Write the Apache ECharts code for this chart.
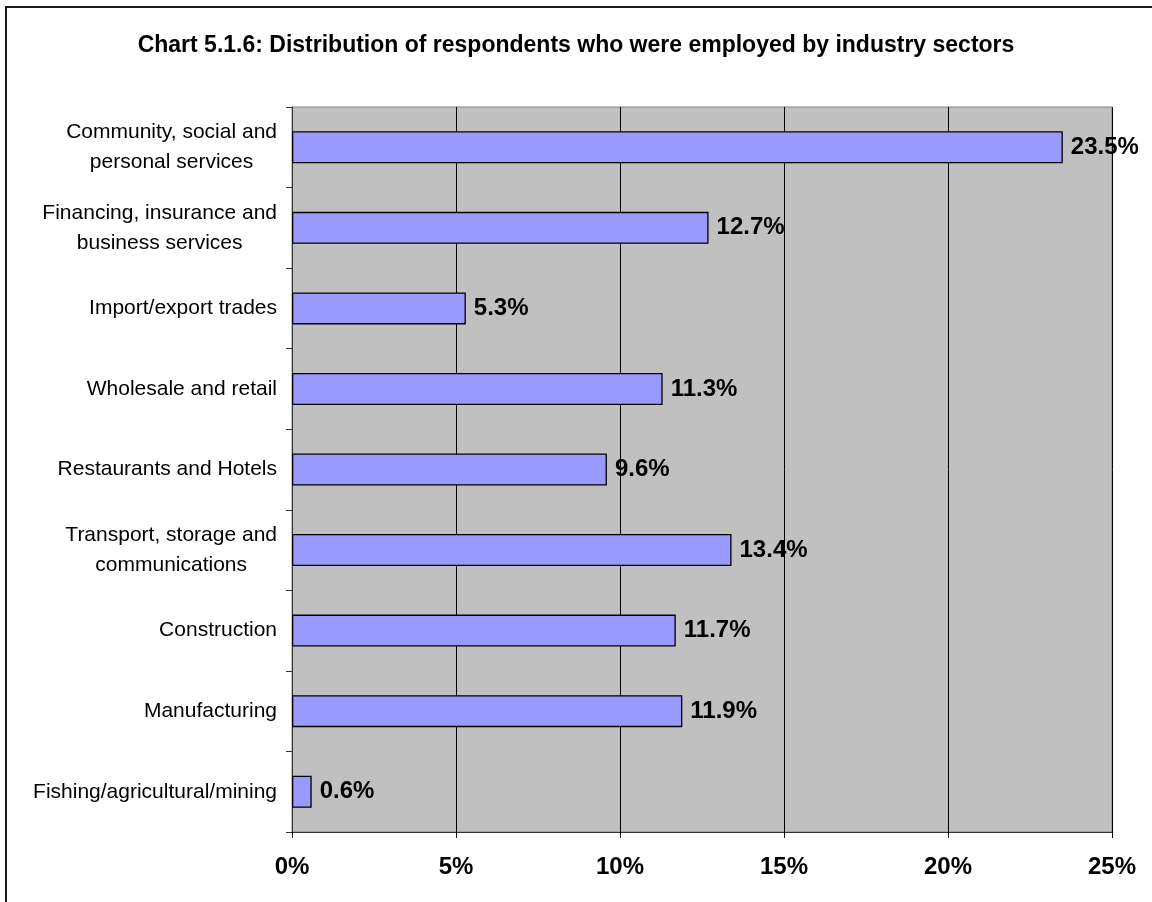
<!DOCTYPE html>
<html>
<head>
<meta charset="utf-8">
<script src="https://cdn.jsdelivr.net/npm/echarts@6/dist/echarts.min.js"></script>
<style>
html,body{margin:0;padding:0;background:#fff;}
#chart{width:1152px;height:902px;}
</style>
</head>
<body>
<div id="chart"></div>
<script>
var titleText = 'Chart 5.1.6: Distribution of respondents who were employed by industry sectors';
var categories = [
  'Community, social and\npersonal services',
  'Financing, insurance and\nbusiness services',
  'Import/export trades',
  'Wholesale and retail',
  'Restaurants and Hotels',
  'Transport, storage and\ncommunications',
  'Construction',
  'Manufacturing',
  'Fishing/agricultural/mining'
];
var values = [23.5, 12.7, 5.3, 11.3, 9.6, 13.4, 11.7, 11.9, 0.6];
var xMin = 0, xMax = 25, xStep = 5;

var FONT = '"Liberation Sans", Arial, Helvetica, sans-serif';
var chart = echarts.init(document.getElementById('chart'), null, {renderer: 'canvas'});
chart.setOption({
  backgroundColor: '#ffffff',
  animation: false,
  textStyle: {fontFamily: FONT},
  title: {
    text: titleText,
    left: 'center',
    top: 34,
    padding: 0,
    textStyle: {fontFamily: FONT, fontSize: 23, fontWeight: 'bold', color: '#000'}
  },
  graphic: [{
    type: 'rect',
    shape: {x: 6, y: 7, width: 1200, height: 1000},
    style: {fill: 'none', stroke: '#1a1a1a', lineWidth: 2},
    silent: true,
    z: 100
  }],
  grid: {
    left: 292, top: 107, width: 820, height: 725,
    show: true, backgroundColor: '#C0C0C0', borderColor: '#808080', borderWidth: 1,
    containLabel: false
  },
  xAxis: {
    type: 'value', min: xMin, max: xMax, interval: xStep,
    axisLine: {show: true, lineStyle: {color: '#333', width: 1}},
    axisTick: {show: true, length: 6, lineStyle: {color: '#000'}},
    axisLabel: {
      margin: 23, formatter: function (v) { return v + '%'; },
      fontFamily: FONT, fontSize: 24, fontWeight: 'bold', color: '#000'
    },
    splitLine: {show: true, lineStyle: {color: '#000', width: 1}}
  },
  yAxis: {
    type: 'category', data: categories, inverse: true,
    axisLine: {show: true, lineStyle: {color: '#333', width: 1}},
    axisTick: {show: true, length: 6, inside: false, lineStyle: {color: '#333'}},
    axisLabel: {
      margin: 15,
      interval: 0,
      formatter: function (v) {
        return v.split('\n').map(function (l) { return '{c|' + l + '}'; }).join('\n');
      },
      rich: {c: {align: 'center', fontFamily: FONT, fontSize: 21, lineHeight: 30, color: '#000'}}
    },
    splitLine: {show: false}
  },
  series: [{
    type: 'bar',
    data: values,
    barWidth: 32,
    itemStyle: {color: '#9999FF', borderColor: '#000', borderWidth: 1.3},
    label: {
      show: true, position: 'right', distance: 8,
      formatter: function (p) { return p.value.toFixed(1) + '%'; },
      fontFamily: FONT, fontSize: 24, fontWeight: 'bold', color: '#000'
    }
  }]
});
</script>
</body>
</html>
